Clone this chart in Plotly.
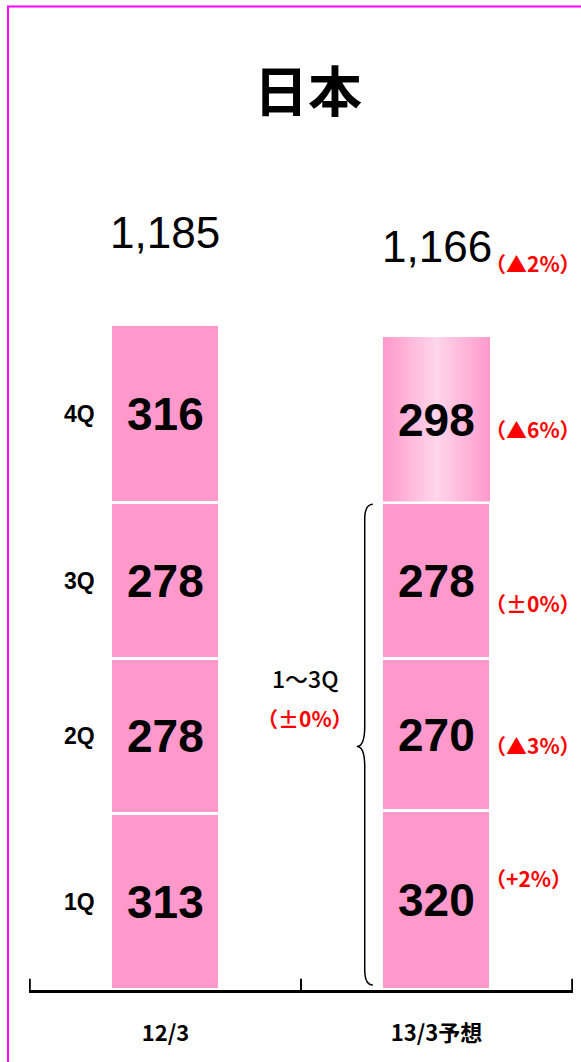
import plotly.graph_objects as go

categories = ["12/3", "13/3予想"]
quarters = ["1Q", "2Q", "3Q", "4Q"]
values_1203 = [313, 278, 278, 316]
values_1303 = [320, 270, 278, 298]
totals = [1185, 1166]
total_change = "（▲2%）"
quarter_changes = ["（+2%）", "（▲3%）", "（±0%）", "（▲6%）"]
q13_label = "1～3Q"
q13_change = "（±0%）"
title_text = "日本"

PINK = "#FF99CC"
LIGHT = "#FFD6EA"
RED = "#FF0000"
NUMFONT = "Liberation Sans, Arial"
JPFONT = "Noto Sans CJK JP"
BAR_W = 0.40
Y_MAX = 1658

series = [values_1203, values_1303]
fig = go.Figure()

for qi, q in enumerate(quarters):
    fig.add_trace(go.Bar(
        x=[0, 1], y=[s[qi] for s in series], width=BAR_W, name=q,
        marker=dict(color=PINK, line=dict(color="white", width=3)),
        hoverinfo="skip", showlegend=False,
    ))

# gradient fill of the forecast 4Q segment
base4 = sum(values_1303[:3])
top4 = sum(values_1303)
x_l, x_r = 1 - BAR_W / 2 + 0.003, 1 + BAR_W / 2 - 0.003
fig.add_trace(go.Scatter(
    x=[x_l, x_r, x_r, x_l, x_l], y=[base4 + 3, base4 + 3, top4 - 2, top4 - 2, base4 + 3],
    mode="lines", fill="toself", line=dict(width=0),
    fillgradient=dict(type="horizontal",
                      colorscale=[[0, PINK], [0.5, LIGHT], [1, PINK]]),
    hoverinfo="skip", showlegend=False,
))

ann = []
# in-bar values
for ci, s in enumerate(series):
    cum = 0
    for qi, v in enumerate(s):
        ann.append(dict(x=ci, y=cum + v / 2, text=str(v), showarrow=False,
                        font=dict(family=NUMFONT, size=46, color="black", weight="bold")))
        cum += v
# quarter labels on the left
cum = 0
for qi, v in enumerate(values_1203):
    ann.append(dict(x=-BAR_W / 2, y=cum + v / 2, text=quarters[qi], showarrow=False,
                    xanchor="right", xshift=-14,
                    font=dict(family="Liberation Sans, Arial", size=23, color="black", weight="bold")))
    cum += v
# totals
shifts = [93, 89]
for ci, t in enumerate(totals):
    ann.append(dict(x=ci, y=t, text=f"{t:,}", showarrow=False, yshift=shifts[ci],
                    font=dict(family=NUMFONT, size=44, color="black")))
ann.append(dict(x=1 + BAR_W / 2, y=totals[1], text=total_change, showarrow=False,
                xanchor="left", xshift=-8, yshift=73,
                font=dict(family=JPFONT, size=21, color=RED, weight="bold")))
# quarter changes on the right
cum = 0
pct_shift = [22, -10, -22, -9]
for qi, v in enumerate(values_1303):
    ann.append(dict(x=1 + BAR_W / 2, y=cum + v / 2, text=quarter_changes[qi], showarrow=False,
                    xanchor="left", xshift=-8, yshift=pct_shift[qi],
                    font=dict(family=JPFONT, size=21, color=RED, weight="bold")))
    cum += v
# brace label
q13_sum = sum(values_1303[:3])
mid = q13_sum / 2
ann.append(dict(x=0.515, y=mid, text=q13_label, showarrow=False, yshift=69,
                font=dict(family=JPFONT, size=23, color="black", weight=500)))
ann.append(dict(x=0.515, y=mid, text=q13_change, showarrow=False, yshift=29,
                font=dict(family=JPFONT, size=21, color=RED, weight="bold")))

# brace shape
xt, xm, xr = 0.706, 0.735, 0.765
yt, yb = q13_sum - 2, 9
d, d2 = 27, 36
path = (f"M {xr},{yt} Q {xm},{yt} {xm},{yt-d} L {xm},{mid+d2} Q {xm},{mid} {xt},{mid} "
        f"Q {xm},{mid} {xm},{mid-d2} L {xm},{yb+d} Q {xm},{yb} {xr},{yb}")
shapes = [
    dict(type="path", path=path, xref="x", yref="y", line=dict(color="black", width=1.5)),
    dict(type="rect", xref="paper", yref="paper", x0=-0.0386, x1=1.2, y0=-0.2, y1=1.0575,
         line=dict(color="#FF00FF", width=2), fillcolor="rgba(0,0,0,0)", layer="above"),
]
# category boundary ticks
for bx in [-0.5, 0.5, 1.5]:
    shapes.append(dict(type="line", xref="x", yref="paper", x0=bx, x1=bx, y0=0, y1=0.012,
                       line=dict(color="black", width=2), layer="above"))

fig.update_layout(
    width=581, height=1062,
    margin=dict(l=29, r=8, t=60, b=72),
    barmode="stack", bargap=0,
    paper_bgcolor="white", plot_bgcolor="white",
    title=dict(text=title_text, x=0.53, xref="container", xanchor="center",
               y=0.912, yref="container", yanchor="middle",
               font=dict(family=JPFONT, size=54, color="black", weight="bold")),
    annotations=ann, shapes=shapes, showlegend=False,
    xaxis=dict(range=[-0.503, 1.503], tickmode="array", tickvals=[0, 1],
               ticktext=categories, ticks="", showline=True, linecolor="black", linewidth=3,
               showgrid=False, zeroline=False, fixedrange=True, ticklabelstandoff=22,
               tickfont=dict(family=JPFONT, size=22, color="black", weight="bold")),
    yaxis=dict(range=[0, Y_MAX], visible=False, showgrid=False, zeroline=False),
)

fig.write_html("out.html", config={"displayModeBar": False},
               post_script="document.body.style.margin='0px';")
